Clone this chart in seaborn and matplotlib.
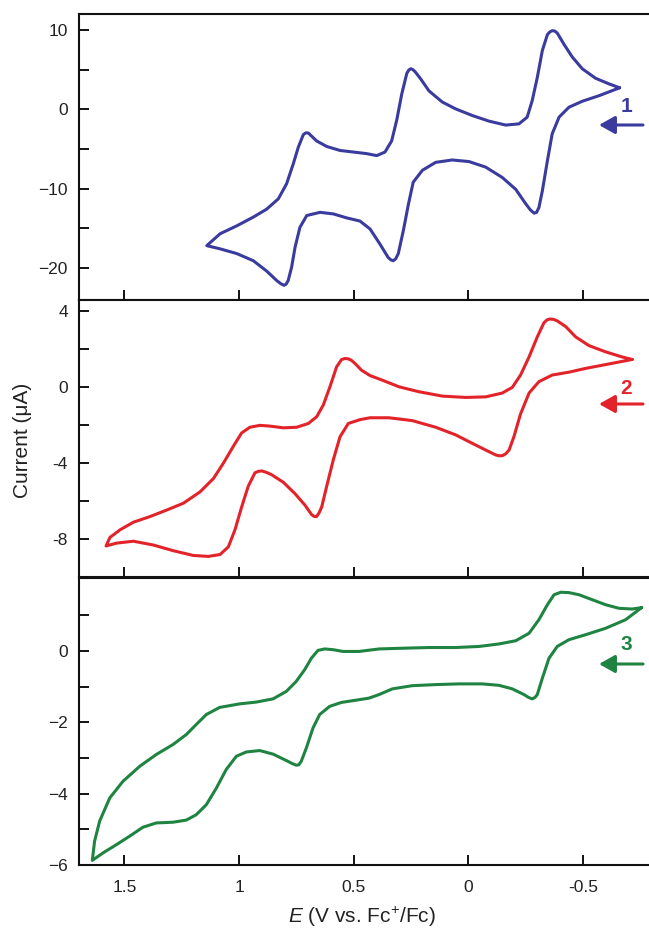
import matplotlib
matplotlib.use("Agg")
import matplotlib.pyplot as plt
import pandas as pd
import seaborn as sns

# --- data (E in V vs Fc+/Fc, current in uA) ---
# each loop: upper branch from the right vertex going left, then lower branch back
e1_upper = [-0.659, -0.612, -0.554, -0.496, -0.452, -0.416, -0.387, -0.376, -0.365, -0.355,
            -0.344, -0.322, -0.300, -0.278, -0.256, -0.220, -0.162, -0.089, -0.017, 0.056,
            0.114, 0.172, 0.208, 0.232, 0.242, 0.251, 0.260, 0.269, 0.291, 0.313,
            0.335, 0.364, 0.400, 0.444, 0.502, 0.560, 0.618, 0.662, 0.682, 0.698,
            0.709, 0.720, 0.742, 0.764, 0.793, 0.829, 0.880, 0.938, 1.010, 1.083,
            1.141]
i1_upper = [2.7, 3.2, 3.9, 5.1, 6.6, 8.2, 9.6, 9.85, 9.9, 9.75,
            9.4, 7.4, 4.0, 1.1, -1.0, -1.85, -2.0, -1.5, -0.8, 0.04,
            0.9, 2.3, 3.8, 4.7, 4.98, 5.1, 4.95, 4.5, 1.9, -1.4,
            -4.0, -5.4, -5.85, -5.6, -5.4, -5.2, -4.7, -4.0, -3.45, -3.0,
            -2.98, -3.2, -4.8, -6.9, -9.4, -11.3, -12.6, -13.6, -14.7, -15.7,
            -17.2]
e1_lower = [1.083, 1.010, 0.938, 0.880, 0.836, 0.818, 0.804, 0.795, 0.786, 0.771,
            0.756, 0.735, 0.705, 0.647, 0.589, 0.531, 0.473, 0.429, 0.386, 0.350,
            0.338, 0.328, 0.317, 0.306, 0.284, 0.262, 0.241, 0.201, 0.143, 0.071,
            -0.002, -0.075, -0.147, -0.206, -0.249, -0.270, -0.286, -0.297, -0.307, -0.322,
            -0.344, -0.365, -0.395, -0.438, -0.496, -0.569, -0.659]
i1_lower = [-17.6, -18.2, -19.1, -20.4, -21.6, -22.0, -22.2, -22.05, -21.6, -19.9,
            -17.4, -14.9, -13.4, -13.0, -13.2, -13.7, -14.1, -15.1, -17.0, -18.7,
            -19.0, -19.1, -18.85, -18.2, -15.3, -12.0, -9.2, -7.7, -6.7, -6.4,
            -6.6, -7.3, -8.6, -10.1, -11.9, -12.7, -13.1, -13.0, -12.4, -10.3,
            -6.5, -3.1, -1.0, 0.25, 1.0, 1.7, 2.7]

e2_upper = [-0.714, -0.670, -0.598, -0.525, -0.467, -0.424, -0.387, -0.371, -0.355, -0.342,
            -0.329, -0.300, -0.264, -0.227, -0.191, -0.147, -0.075, 0.012, 0.114, 0.216,
            0.303, 0.376, 0.429, 0.466, 0.495, 0.511, 0.524, 0.538, 0.553, 0.575,
            0.604, 0.633, 0.662, 0.698, 0.749, 0.807, 0.865, 0.909, 0.953, 0.989,
            1.025, 1.069, 1.112, 1.170, 1.243, 1.316, 1.388, 1.461, 1.519, 1.563,
            1.580]
i2_upper = [1.47, 1.6, 1.87, 2.2, 2.66, 3.2, 3.5, 3.58, 3.6, 3.55,
            3.4, 2.66, 1.6, 0.65, 0.0, -0.3, -0.5, -0.53, -0.46, -0.23,
            0.03, 0.38, 0.62, 0.9, 1.26, 1.43, 1.5, 1.52, 1.47, 1.08,
            0.03, -0.93, -1.55, -1.9, -2.1, -2.13, -2.04, -2.0, -2.1, -2.4,
            -3.1, -4.0, -4.8, -5.5, -6.1, -6.46, -6.8, -7.1, -7.5, -7.9,
            -8.35]
e2_lower = [1.534, 1.461, 1.374, 1.287, 1.200, 1.134, 1.083, 1.047, 1.018, 0.989,
            0.960, 0.931, 0.916, 0.901, 0.880, 0.858, 0.807, 0.756, 0.713, 0.684,
            0.672, 0.662, 0.651, 0.640, 0.618, 0.589, 0.560, 0.524, 0.473, 0.429,
            0.347, 0.245, 0.143, 0.056, -0.017, -0.075, -0.119, -0.133, -0.147, -0.162,
            -0.177, -0.198, -0.227, -0.264, -0.307, -0.365, -0.438, -0.511, -0.598, -0.714]
i2_lower = [-8.2, -8.1, -8.3, -8.6, -8.85, -8.9, -8.8, -8.4, -7.5, -6.3,
            -5.2, -4.5, -4.42, -4.4, -4.48, -4.6, -5.0, -5.6, -6.2, -6.7,
            -6.8, -6.8, -6.6, -6.3, -5.2, -3.8, -2.6, -1.9, -1.7, -1.6,
            -1.6, -1.75, -2.1, -2.5, -2.95, -3.3, -3.56, -3.6, -3.6, -3.5,
            -3.3, -2.6, -1.4, -0.3, 0.3, 0.65, 0.8, 1.0, 1.2, 1.47]

e3_upper = [-0.755, -0.714, -0.656, -0.598, -0.540, -0.482, -0.438, -0.402, -0.373, -0.344,
            -0.307, -0.264, -0.206, -0.133, -0.046, 0.056, 0.172, 0.289, 0.390, 0.477,
            0.547, 0.591, 0.627, 0.656, 0.685, 0.714, 0.751, 0.794, 0.852, 0.925,
            0.997, 1.085, 1.143, 1.187, 1.230, 1.288, 1.361, 1.433, 1.506, 1.564,
            1.608, 1.630, 1.640]
i3_upper = [1.22, 1.18, 1.20, 1.30, 1.44, 1.58, 1.64, 1.65, 1.58, 1.30,
            0.88, 0.50, 0.29, 0.20, 0.13, 0.10, 0.10, 0.08, 0.06, -0.01,
            -0.01, 0.04, 0.06, 0.02, -0.20, -0.52, -0.85, -1.13, -1.34, -1.43,
            -1.48, -1.58, -1.78, -2.06, -2.34, -2.62, -2.90, -3.23, -3.65, -4.12,
            -4.77, -5.33, -5.87]
e3_lower = [1.593, 1.535, 1.477, 1.419, 1.361, 1.288, 1.230, 1.187, 1.143, 1.099,
            1.056, 1.012, 0.969, 0.910, 0.852, 0.794, 0.770, 0.751, 0.740, 0.729,
            0.707, 0.678, 0.649, 0.605, 0.554, 0.503, 0.434, 0.390, 0.332, 0.245,
            0.143, 0.041, -0.060, -0.133, -0.191, -0.242, -0.262, -0.278, -0.290, -0.300,
            -0.322, -0.351, -0.387, -0.438, -0.511, -0.598, -0.685, -0.755]
i3_lower = [-5.66, -5.43, -5.19, -4.94, -4.82, -4.80, -4.74, -4.59, -4.31, -3.84,
            -3.32, -2.95, -2.83, -2.79, -2.89, -3.07, -3.15, -3.20, -3.19, -3.09,
            -2.72, -2.16, -1.78, -1.55, -1.44, -1.39, -1.32, -1.22, -1.06, -0.97,
            -0.94, -0.92, -0.92, -0.96, -1.06, -1.22, -1.30, -1.34, -1.30, -1.22,
            -0.76, -0.20, 0.13, 0.32, 0.46, 0.64, 0.88, 1.22]

compounds = ["1", "2", "3"]
colors = ["#3a3b9e", "#e3232a", "#1f8442"]

x_ticks = [1.5, 1.0, 0.5, 0.0, -0.5]
x_ticklabels = ["1.5", "1", "0.5", "0", "-0.5"]

y_ticks = [[-20, -15, -10, -5, 0, 5, 10],
           [-8, -6, -4, -2, 0, 2, 4],
           [-6, -5, -4, -3, -2, -1, 0, 1]]
y_ticklabels = [["\u221220", "", "\u221210", "", "0", "", "10"],
                ["-8", "", "-4", "", "0", "", "4"],
                ["\u22126", "", "\u22124", "", "\u22122", "", "0", ""]]
y_limits = [(-24.05, 12.0), (-10.0, 4.6), (-6.0, 2.05)]

loops = [(e1_upper + e1_lower, i1_upper + i1_lower),
         (e2_upper + e2_lower, i2_upper + i2_lower),
         (e3_upper + e3_lower, i3_upper + i3_lower)]

sns.set_style("ticks")
plt.rcParams["font.family"] = ["Liberation Sans", "DejaVu Sans"]
plt.rcParams["mathtext.fontset"] = "custom"
plt.rcParams["mathtext.rm"] = "Liberation Sans"
plt.rcParams["mathtext.it"] = "Liberation Sans:italic"

W, H = 649, 934
fig = plt.figure(figsize=(W / 100, H / 100), dpi=100)

# panel boxes in pixels (top, bottom)
panel_px = [(14, 300), (300, 577.3), (578, 865)]
left_px, right_px = 79, 649
label_py = [107, 388, 645]
arrow_py = [125, 404, 664]

for k, (E, I) in enumerate(loops):
    top, bot = panel_px[k]
    ax = fig.add_axes([left_px / W, (H - bot) / H, (right_px - left_px) / W, (bot - top) / H])
    df = pd.DataFrame({"E": E, "I": I})
    sns.lineplot(data=df, x="E", y="I", sort=False, estimator=None, ax=ax,
                 color=colors[k], linewidth=2.2, solid_joinstyle="round")
    ax.set_xlim(1.698, -0.787)
    ax.set_ylim(*y_limits[k])
    ax.set_xticks(x_ticks)
    ax.set_yticks(y_ticks[k])
    ax.set_yticklabels(y_ticklabels[k])
    if k == 2:
        ax.set_xticklabels(x_ticklabels)
    else:
        ax.set_xticklabels([])
    ax.set_xlabel("")
    ax.set_ylabel("")
    ax.spines["right"].set_visible(False)
    for s in ["left", "top", "bottom"]:
        ax.spines[s].set_linewidth(1.5)
        ax.spines[s].set_color("#111111")
    ax.tick_params(direction="in", length=7.5, width=1.4, color="#111111",
                   labelsize=12.5, labelcolor="#222222")
    ax.tick_params(axis="y", pad=8)
    ax.tick_params(axis="x", pad=11)

    # compound number and scan-direction arrow
    fig.text(626 / W, (H - label_py[k]) / H, compounds[k], color=colors[k],
             fontsize=15, fontweight="bold", ha="center", va="center")
    ax.annotate("", xy=(599 / W, (H - arrow_py[k]) / H), xycoords="figure fraction",
                xytext=(643 / W, (H - arrow_py[k]) / H), textcoords="figure fraction",
                arrowprops=dict(arrowstyle="-|>,head_length=0.8,head_width=0.45",
                                color=colors[k], lw=2.2, mutation_scale=12,
                                shrinkA=0, shrinkB=0))

fig.text(23 / W, (H - 440) / H, "Current (\u03bcA)", rotation=90,
         ha="center", va="center", fontsize=15, color="#222222")
fig.text(362 / W, (H - 917) / H, "$E$ (V vs. Fc$^{+}$/Fc)",
         ha="center", va="center", fontsize=15, color="#222222")

fig.savefig("out.png", dpi=100)
